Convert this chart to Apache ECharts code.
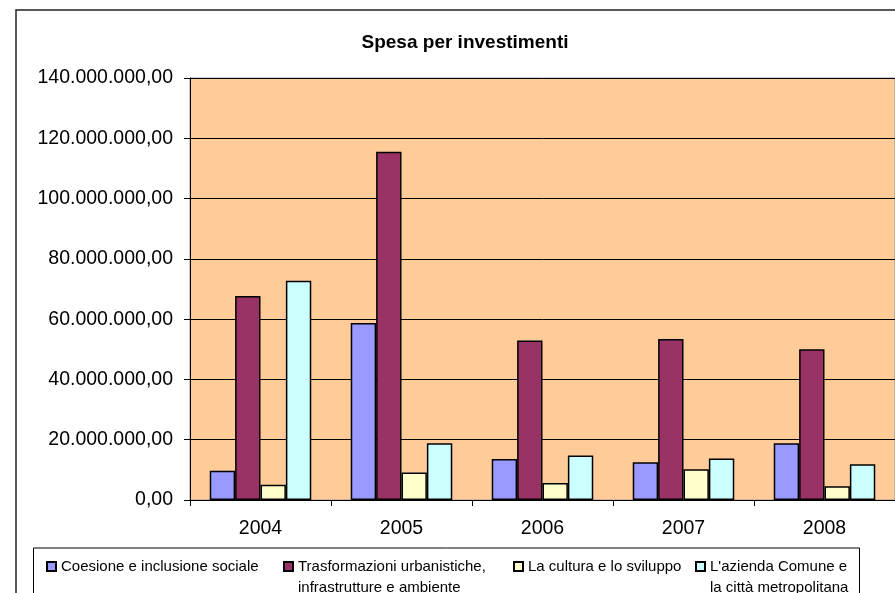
<!DOCTYPE html>
<html>
<head>
<meta charset="utf-8">
<script src="https://cdn.jsdelivr.net/npm/echarts@6/dist/echarts.min.js"></script>
<style>
html,body{margin:0;padding:0;background:#fff;}
#c{width:895px;height:593px;}
</style>
</head>
<body>
<div id="c"></div>
<script>
var categories = ['2004', '2005', '2006', '2007', '2008'];
var coesione = [9700000, 58700000, 13600000, 12500000, 18800000];
var trasformazioni = [67700000, 115500000, 52900000, 53400000, 50000000];
var cultura = [5100000, 9100000, 5600000, 10200000, 4600000];
var azienda = [72700000, 18800000, 14800000, 13800000, 11900000];
var seriesNames = [
  'Coesione e inclusione sociale',
  'Trasformazioni urbanistiche,\ninfrastrutture e ambiente',
  'La cultura e lo sviluppo',
  "L'azienda Comune e\nla città metropolitana"
];
var seriesColors = ['#9999FF', '#993366', '#FFFFCC', '#CCFFFF'];
var seriesData = [coesione, trasformazioni, cultura, azienda];

var FONT = "'Liberation Sans', Arial, sans-serif";

function fmt(v) {
  var s = Math.round(v).toString().replace(/\B(?=(\d{3})+(?!\d))/g, '.');
  return s + ',00';
}

var chart = echarts.init(document.getElementById('c'), null, {renderer: 'canvas'});

var legendLeft = [46, 283, 513, 695];
var legends = seriesNames.map(function (n, i) {
  var multi = n.indexOf('\n') >= 0;
  return {
    data: [n],
    left: legendLeft[i],
    top: multi ? 535 : 556,
    padding: 0,
    itemWidth: 9,
    itemHeight: 9,
    icon: 'rect',
    selectedMode: false,
    formatter: function (name) { return multi ? ' \n' + name : name; },
    textStyle: {
      fontFamily: FONT,
      fontSize: 15,
      color: '#000',
      lineHeight: 21
    }
  };
});

var option = {
  animation: false,
  backgroundColor: '#fff',
  title: {
    text: 'Spesa per investimenti',
    left: 460,
    top: 28,
    textAlign: 'center',
    textStyle: {fontFamily: FONT, fontSize: 19, fontWeight: 'bold', color: '#000'}
  },
  legend: legends,
  grid: {
    left: 190,
    right: -1,
    top: 78,
    bottom: 93,
    show: true,
    backgroundColor: '#FFCC99',
    borderColor: '#999',
    borderWidth: 1
  },
  xAxis: {
    type: 'category',
    data: categories,
    axisLine: {lineStyle: {color: '#000', width: 1}},
    axisTick: {show: true, length: 6, lineStyle: {color: '#000'}},
    axisLabel: {fontFamily: FONT, fontSize: 19.5, color: '#000', margin: 19}
  },
  yAxis: {
    type: 'value',
    min: 0,
    max: 140000000,
    interval: 20000000,
    axisLine: {show: true, lineStyle: {color: '#000', width: 1}},
    axisTick: {show: true, length: 6, lineStyle: {color: '#000'}},
    axisLabel: {fontFamily: FONT, fontSize: 19.5, color: '#000', margin: 17, formatter: fmt},
    splitLine: {show: true, lineStyle: {color: '#000', width: 1}}
  },
  series: seriesNames.map(function (n, i) {
    return {
      name: n,
      type: 'bar',
      data: seriesData[i],
      barGap: '0%',
      barCategoryGap: '28%',
      itemStyle: {color: seriesColors[i], borderColor: '#000', borderWidth: 1.5}
    };
  }),
  graphic: [
    {type: 'rect', shape: {x: 16, y: 10, width: 900, height: 600}, style: {fill: null, stroke: '#222', lineWidth: 1.5}, silent: true, z: -1},
    {type: 'rect', shape: {x: 33.5, y: 548, width: 826, height: 60}, style: {fill: null, stroke: '#000', lineWidth: 1}, silent: true}
  ]
};
chart.setOption(option);
</script>
</body>
</html>
